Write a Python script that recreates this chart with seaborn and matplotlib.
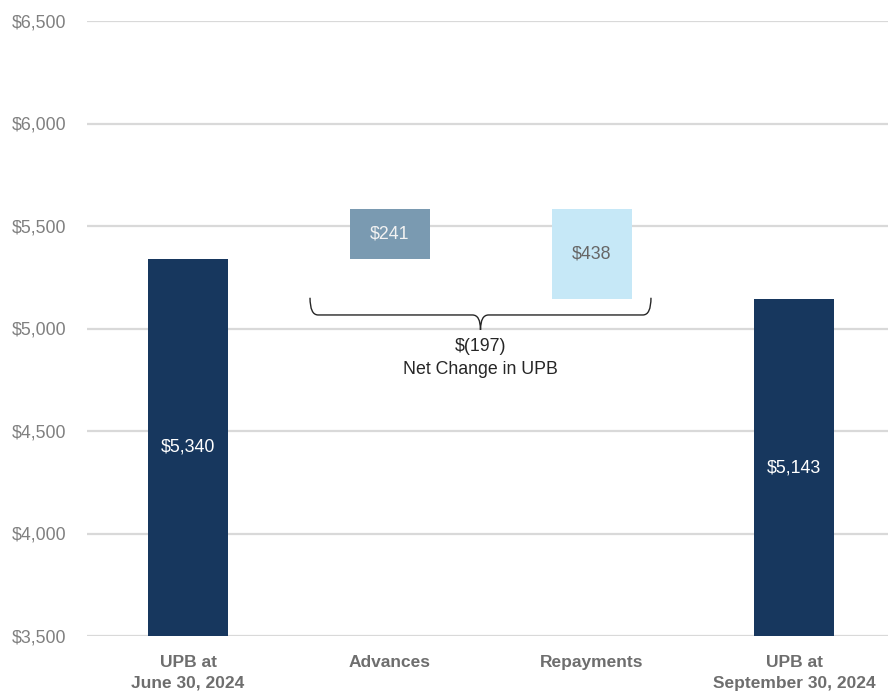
import matplotlib
matplotlib.use("Agg")
import matplotlib.pyplot as plt
from matplotlib.path import Path
from matplotlib.patches import PathPatch
from matplotlib.ticker import FuncFormatter, MultipleLocator
import seaborn as sns

# Unpaid principal balance roll-forward ($ millions)
categories = ["UPB at\nJune 30, 2024", "Advances", "Repayments", "UPB at\nSeptember 30, 2024"]
opening_upb = 5340
advances = 241
repayments = 438
closing_upb = 5143
net_change = closing_upb - opening_upb

axis_floor = 3500
bar_tops = [opening_upb, opening_upb + advances, opening_upb + advances, closing_upb]
bar_bottoms = [axis_floor, opening_upb, opening_upb + advances - repayments, axis_floor]
bar_heights = [t - b for t, b in zip(bar_tops, bar_bottoms)]
bar_labels = [f"${opening_upb:,}", f"${advances:,}", f"${repayments:,}", f"${closing_upb:,}"]

bar_colors = ["#17375E", "#7A9AB1", "#C6E8F7", "#17375E"]
label_colors = ["white", "#F2F2F2", "#666666", "white"]

sns.set_theme(style="white")
plt.rcParams["font.family"] = ["Liberation Sans", "DejaVu Sans"]

fig = plt.figure(figsize=(8.88, 6.91), dpi=100)
ax = fig.add_axes([87 / 888, 1 - 636 / 691, 808 / 888, (636 - 21) / 691])

sns.barplot(x=categories, y=bar_heights, bottom=bar_bottoms, width=0.4,
            color=bar_colors[0], saturation=1, ax=ax, zorder=3)
for patch, col in zip(ax.patches, bar_colors):
    patch.set_facecolor(col)
    patch.set_edgecolor("none")

for i, (b, h, lab, lc) in enumerate(zip(bar_bottoms, bar_heights, bar_labels, label_colors)):
    ax.text(i, b + h / 2, lab, ha="center", va="center", fontsize=12.8, color=lc, zorder=4)

ax.set_ylim(axis_floor, 6500)
ax.set_xlim(-0.5, 3.5)
ax.yaxis.set_major_locator(MultipleLocator(500))
ax.yaxis.set_major_formatter(FuncFormatter(lambda v, _: f"${v:,.0f}"))
ax.grid(axis="y", color="#D9D9D9", linewidth=1.6, zorder=0)
ax.set_axisbelow(True)
for s in ax.spines.values():
    s.set_visible(False)
ax.tick_params(axis="y", length=0, pad=15, labelsize=12.8, labelcolor="#808080")
ax.tick_params(axis="x", length=0, pad=14, labelsize=12.5, labelcolor="#6E6E6E")
for t in ax.get_xticklabels():
    t.set_fontweight("bold")
    t.set_linespacing(1.45)
ax.set_xlabel("")
ax.set_ylabel("")

# Curly brace spanning the two movements
x0, x1 = 0.604, 2.292
xm = (x0 + x1) / 2
y_tip, y_line, y_point = 5150, 5066, 4993
r = 0.04
verts = [
    (x0, y_tip), (x0, y_line), (x0 + r, y_line),
    (xm - r, y_line), (xm, y_line), (xm, y_point),
    (xm, y_line), (xm + r, y_line),
    (x1 - r, y_line), (x1, y_line), (x1, y_tip),
]
codes = [
    Path.MOVETO, Path.CURVE3, Path.CURVE3,
    Path.LINETO, Path.CURVE3, Path.CURVE3,
    Path.CURVE3, Path.CURVE3,
    Path.LINETO, Path.CURVE3, Path.CURVE3,
]
ax.add_patch(PathPatch(Path(verts, codes), facecolor="none", edgecolor="#262626",
                       linewidth=1.0, zorder=4))
ax.text(xm, 4855, f"$({abs(net_change)})\nNet Change in UPB", ha="center", va="center",
        fontsize=12.8, color="#262626", linespacing=1.5, zorder=4)

fig.savefig("out.png", dpi=100)
